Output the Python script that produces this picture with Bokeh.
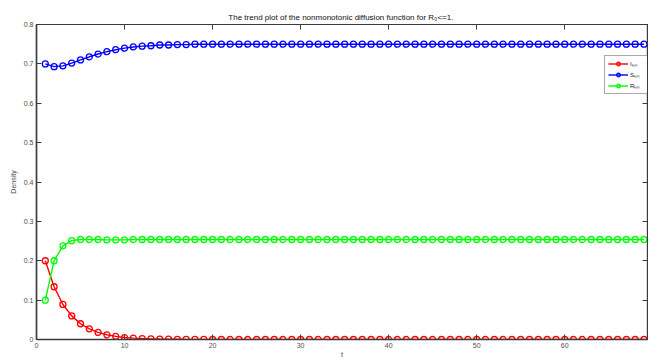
from bokeh.plotting import figure
from bokeh.models import LinearAxis, Legend, FixedTicker
from bokeh.embed import file_html
from bokeh.resources import INLINE

# time steps
t = list(range(1, 70))

# infected density
I_km = [
    0.200, 0.134, 0.089, 0.060, 0.040, 0.027, 0.018, 0.012, 0.008, 0.005,
    0.0036, 0.0024, 0.0016, 0.0011, 0.0007, 0.0005, 0.0003, 0.0002, 0.0001, 0.0,
    0.0, 0.0, 0.0, 0.0, 0.0, 0.0, 0.0, 0.0, 0.0, 0.0,
    0.0, 0.0, 0.0, 0.0, 0.0, 0.0, 0.0, 0.0, 0.0, 0.0,
    0.0, 0.0, 0.0, 0.0, 0.0, 0.0, 0.0, 0.0, 0.0, 0.0,
    0.0, 0.0, 0.0, 0.0, 0.0, 0.0, 0.0, 0.0, 0.0, 0.0,
    0.0, 0.0, 0.0, 0.0, 0.0, 0.0, 0.0, 0.0, 0.0,
]

# susceptible density
S_km = [
    0.700, 0.693, 0.695, 0.702, 0.710, 0.718, 0.725, 0.731, 0.736, 0.740,
    0.743, 0.745, 0.746, 0.748, 0.748, 0.749, 0.749, 0.750, 0.750, 0.750,
    0.750, 0.750, 0.750, 0.750, 0.750, 0.750, 0.750, 0.750, 0.750, 0.750,
    0.750, 0.750, 0.750, 0.750, 0.750, 0.750, 0.750, 0.750, 0.750, 0.750,
    0.750, 0.750, 0.750, 0.750, 0.750, 0.750, 0.750, 0.750, 0.750, 0.750,
    0.750, 0.750, 0.750, 0.750, 0.750, 0.750, 0.750, 0.750, 0.750, 0.750,
    0.750, 0.750, 0.750, 0.750, 0.750, 0.750, 0.750, 0.750, 0.750,
]

# recovered density
R_km = [
    0.100, 0.200, 0.238, 0.251, 0.254, 0.254, 0.254, 0.253, 0.253, 0.253,
    0.254, 0.254, 0.254, 0.254, 0.254, 0.254, 0.254, 0.254, 0.254, 0.254,
    0.254, 0.254, 0.254, 0.254, 0.254, 0.254, 0.254, 0.254, 0.254, 0.254,
    0.254, 0.254, 0.254, 0.254, 0.254, 0.254, 0.254, 0.254, 0.254, 0.254,
    0.254, 0.254, 0.254, 0.254, 0.254, 0.254, 0.254, 0.254, 0.254, 0.254,
    0.254, 0.254, 0.254, 0.254, 0.254, 0.254, 0.254, 0.254, 0.254, 0.254,
    0.254, 0.254, 0.254, 0.254, 0.254, 0.254, 0.254, 0.254, 0.254,
]

x_ticks = [0, 10, 20, 30, 40, 50, 60]
y_ticks = [0, 0.1, 0.2, 0.3, 0.4, 0.5, 0.6, 0.7, 0.8]

FONT = "Liberation Sans"
AXIS_COLOR = "#3a3a3a"
LABEL_COLOR = "#4d4d4d"

p = figure(
    width=648, height=360,
    x_range=(0, 69.4), y_range=(0, 0.8),
    output_backend="svg", toolbar_location=None,
    min_border_left=36, min_border_right=1,
    min_border_top=24, min_border_bottom=18,
    title="The trend plot of the  nonmonotonic diffusion function for R\u2080<=1.",
)
p.title.align = "center"
p.title.text_font = FONT
p.title.text_font_size = "8px"
p.title.text_font_style = "normal"
p.title.text_color = "#111111"
p.title.standoff = 5

p.grid.visible = False
p.outline_line_color = AXIS_COLOR
p.outline_line_width = 1.2
p.background_fill_color = "white"
p.border_fill_color = "white"


def style_axis(ax, ticks):
    ax.ticker = FixedTicker(ticks=ticks)
    ax.axis_line_color = AXIS_COLOR
    ax.axis_line_width = 1.5
    ax.major_tick_line_color = AXIS_COLOR
    ax.major_tick_in = 5
    ax.major_tick_out = 0
    ax.minor_tick_line_color = None
    ax.major_label_text_font = FONT
    ax.major_label_text_font_size = "7px"
    ax.major_label_text_color = LABEL_COLOR
    ax.axis_label_text_font = FONT
    ax.axis_label_text_font_size = "7px"
    ax.axis_label_text_font_style = "normal"
    ax.axis_label_text_color = LABEL_COLOR


style_axis(p.xaxis[0], x_ticks)
style_axis(p.yaxis[0], y_ticks)
p.xaxis[0].axis_label = "t"
p.xaxis[0].major_label_standoff = 3
p.xaxis[0].axis_label_standoff = 0
p.yaxis[0].axis_label = "Density"
p.yaxis[0].major_label_standoff = 3
p.yaxis[0].axis_label_standoff = 4

# mirrored box axes: inward ticks only, labels left blank and unpainted
top_axis = LinearAxis()
right_axis = LinearAxis()
for ax, ticks in ((top_axis, x_ticks), (right_axis, y_ticks)):
    style_axis(ax, ticks)
    ax.major_label_overrides = {tk: "" for tk in ticks}
    ax.major_label_text_color = None
    ax.major_label_standoff = 0
    ax.axis_line_width = 1.2
p.add_layout(top_axis, "above")
p.add_layout(right_axis, "right")

series = [
    ("I\u2096\u2098", I_km, "#ff0000"),
    ("S\u2096\u2098", S_km, "#0000ff"),
    ("R\u2096\u2098", R_km, "#00ff00"),
]

items = []
for name, vals, color in series:
    ln = p.line(t, vals, line_color=color, line_width=1.4)
    sc = p.scatter(t, vals, marker="circle", size=6, fill_color=None,
                   line_color=color, line_width=1.3)
    items.append((name, [ln, sc]))

legend = Legend(items=items, location=(568, 245))
legend.label_text_font = FONT
legend.label_text_font_size = "6px"
legend.label_text_color = "#222222"
legend.glyph_width = 20
legend.glyph_height = 9
legend.label_standoff = 2
legend.label_height = 9
legend.spacing = 2
legend.padding = 3
legend.margin = 0
legend.border_line_color = "#555555"
legend.border_line_width = 1
legend.background_fill_color = "white"
p.add_layout(legend, "center")

out = file_html(p, INLINE)
open("out.html", "w").write(out)
